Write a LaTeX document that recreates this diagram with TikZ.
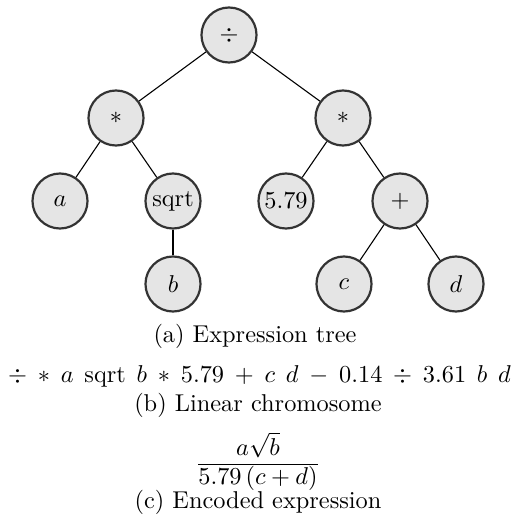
\documentclass[tikz,border=0pt]{standalone}
\usepackage{amsmath}
\begin{document}
\begin{tikzpicture}[x=0.4107pt,y=-0.4107pt,
  tnode/.style={circle,draw=black!80,line width=0.9pt,fill=black!10,minimum size=22.6pt,inner sep=0.5pt},
  tedge/.style={line width=0.45pt,black}]
\useasboundingbox (0,0) rectangle (516,516);
\node[tnode] (root) at (229,35) {$\div$};
\node[tnode] (m1) at (116,118) {$*$};
\node[tnode] (m2) at (343,118) {$*$};
\node[tnode] (a) at (60,201) {$a$};
\node[tnode] (sq) at (173,201) {sqrt};
\node[tnode] (n579) at (286,201) {5.79};
\node[tnode] (plus) at (400,201) {$+$};
\node[tnode] (b) at (173,284) {$b$};
\node[tnode] (c) at (344,284) {$c$};
\node[tnode] (d) at (456,284) {$d$};
\draw[tedge] (root) -- (m1);
\draw[tedge] (root) -- (m2);
\draw[tedge] (m1) -- (a);
\draw[tedge] (m1) -- (sq);
\draw[tedge] (sq) -- (b);
\draw[tedge] (m2) -- (n579);
\draw[tedge] (m2) -- (plus);
\draw[tedge] (plus) -- (c);
\draw[tedge] (plus) -- (d);
\node[anchor=base,inner sep=0pt] (capa) at (255,342) {(a) Expression tree};
\node[anchor=base,inner sep=0pt] (chrom) at (259.5,382) {\makebox[206.5pt][s]{$\div$\hfill$*$\hfill$a$\hfill sqrt\hfill$b$\hfill$*$\hfill$5.79$\hfill$+$\hfill$c$\hfill$d$\hfill$-$\hfill$0.14$\hfill$\div$\hfill$3.61$\hfill$b$\hfill$d$}};
\node[anchor=base,inner sep=0pt] (capb) at (258,411) {(b) Linear chromosome};
\node[anchor=base,inner sep=0pt] (num) at (258,455) {$a\sqrt{b}$};
\coordinate (barl) at (198,464);
\coordinate (barr) at (318,464);
\draw[line width=0.4pt] (barl) -- (barr);
\node[anchor=base,inner sep=0pt] (den) at (258,484) {$5.79\,(c+d)$};
\node[anchor=base,inner sep=0pt] (capc) at (258,508) {(c) Encoded expression};
\end{tikzpicture}
\end{document}
